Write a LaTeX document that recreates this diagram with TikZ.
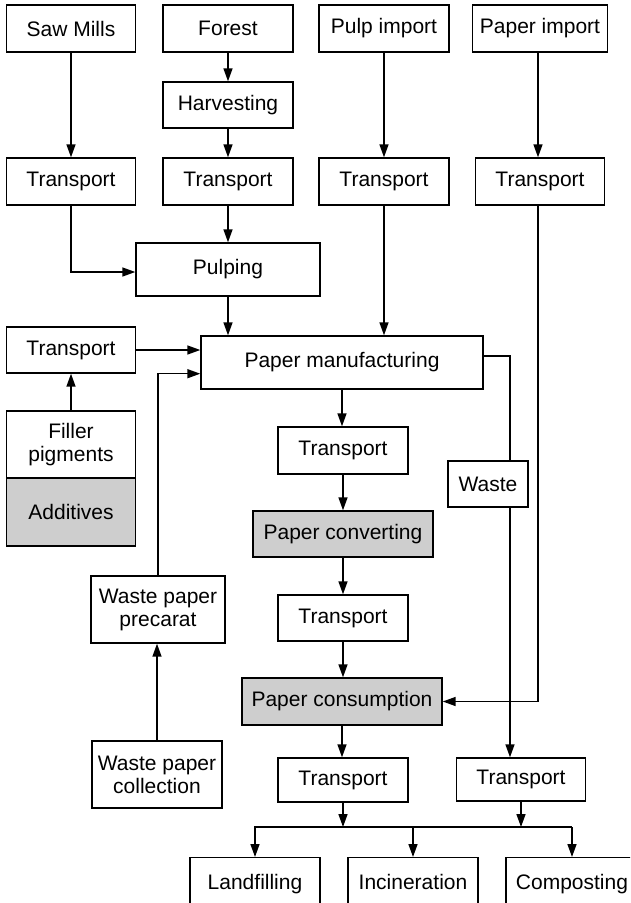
\documentclass[tikz,border=0pt]{standalone}
\usepackage{fontspec}
\setmainfont{Liberation Sans}
\usetikzlibrary{arrows.meta,calc}
\definecolor{shade}{RGB}{206,206,206}
\begin{document}
\begin{tikzpicture}[x=1pt,y=-1pt,
  line width=1.5pt,
  box/.style={draw,line width=1.4pt,inner sep=0pt,align=center,
    font=\fontsize{21}{23}\selectfont},
  grey/.style={box,fill=shade},
  arr/.style={-{Triangle[length=13pt,width=9pt]}},
  link/.style={line join=miter}]
\useasboundingbox (0,0) rectangle (630,903);
\clip (0,0) rectangle (630,903);

% sources
\node[box,minimum width=129,minimum height=47] (saw)     at (71,28.5)  {Saw Mills};
\node[box,minimum width=130,minimum height=47] (forest)  at (228,28.5) {Forest};
\node[box,minimum width=130,minimum height=47] (pulpimp) at (384,28.5) {Pulp import};
\node[box,minimum width=135,minimum height=47] (papimp)  at (540,28.5) {Paper import};
\node[box,minimum width=130,minimum height=46] (harv)    at (228,105)  {Harvesting};

% first transport row
\node[box,minimum width=129,minimum height=47] (t1) at (71,181.5)  {Transport};
\node[box,minimum width=130,minimum height=47] (t2) at (228,181.5) {Transport};
\node[box,minimum width=130,minimum height=47] (t3) at (384,181.5) {Transport};
\node[box,minimum width=129,minimum height=47] (t4) at (540,181.5) {Transport};

\node[box,minimum width=184,minimum height=53] (pulping) at (228,269.5) {Pulping};

% manufacturing
\node[box,minimum width=129,minimum height=46] (tleft) at (71,350) {Transport};
\node[box,minimum width=282,minimum height=53] (pm) at (342,362.5) {Paper manufacturing};
\node[box,minimum width=129,minimum height=67] (filler) at (71,444.5) {Filler\\pigments};
\node[grey,minimum width=129,minimum height=68] (add) at (71,512) {Additives};

% central chain
\node[box,minimum width=130,minimum height=47] (tm1) at (343,450.5) {Transport};
\node[box,minimum width=80,minimum height=46] (waste) at (488,484) {Waste};
\node[grey,minimum width=180,minimum height=46] (conv) at (343,534) {Paper converting};
\node[box,minimum width=130,minimum height=46] (tm2) at (343,618) {Transport};
\node[grey,minimum width=200,minimum height=47] (cons) at (342,701.5) {Paper consumption};
\node[box,minimum width=130,minimum height=44] (tm3) at (343,780) {Transport};
\node[box,minimum width=129,minimum height=43] (tr) at (521,779.5) {Transport};

% recycling
\node[box,minimum width=134,minimum height=67] (prec) at (158,609.5) {Waste paper\\precarat};
\node[box,minimum width=130,minimum height=67] (coll) at (157,774.5) {Waste paper\\collection};

% end of life
\node[box,minimum width=130,minimum height=54,anchor=north] (land) at (255,857) {\raisebox{6pt}{Landfilling}};
\node[box,minimum width=130,minimum height=54,anchor=north] (inc)  at (413,857) {\raisebox{6pt}{Incineration}};
\node[box,minimum width=132,minimum height=54,anchor=north] (comp) at (572,857) {\raisebox{6pt}{Composting}};

% connectors
\draw[arr] (saw.south) -- (t1.north);
\draw[arr] (forest.south) -- (harv.north);
\draw[arr] (harv.south) -- (t2.north);
\draw[arr] (pulpimp.south) -- (t3.north);
\draw[arr] ([xshift=-2pt]papimp.south) -- ([xshift=-2pt]t4.north);

\draw[arr,link] (t1.south) |- ([yshift=-2.5pt]pulping.west);
\draw[arr] (t2.south) -- (pulping.north);
\draw[arr] (pulping.south) -- (pulping.south |- pm.north);
\draw[arr] (t3.south) -- (t3.south |- pm.north);
\draw[arr,link] ([xshift=-2pt]t4.south) |- (cons.east);

\draw[arr] (tleft.east) -- (tleft.east -| pm.west);
\draw[arr] (filler.north) -- (tleft.south);
\draw[arr,link] (prec.north) |- ([yshift=16pt]pm.south west);
\draw[arr] (coll.north) -- (coll.north |- prec.south);

\coordinate (wtop) at ([xshift=22pt]waste.north);
\coordinate (wbot) at ([xshift=22pt]waste.south);
\draw[link] ([yshift=6.5pt]pm.east) -| (wtop);
\draw[arr] (wbot) -- (wbot |- tr.north);

\draw[arr] (pm.south) -- (pm.south |- tm1.north);
\draw[arr] (tm1.south) -- (conv.north);
\draw[arr] (conv.south) -- (tm2.north);
\draw[arr] (tm2.south) -- (tm2.south |- cons.north);
\draw[arr] (cons.south) -- (cons.south |- tm3.north);

\coordinate (bus) at (343,827);
\draw[arr] (tm3.south) -- (tm3.south |- bus);
\draw[arr] (tr.south) -- (tr.south |- bus);
\draw[arr,link] (bus -| comp.north) -- (bus -| land.north) -- (land.north);
\draw[arr] (bus -| inc.north) -- (inc.north);
\draw[arr] (bus -| comp.north) -- (comp.north);
\end{tikzpicture}
\end{document}
